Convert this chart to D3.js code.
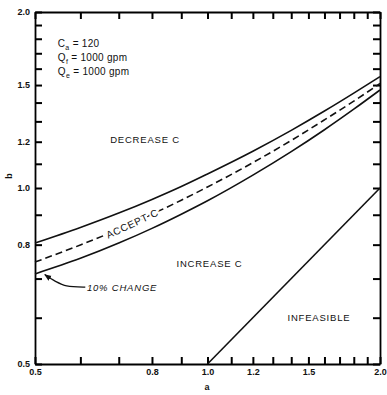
<!DOCTYPE html>
<html>
<head>
<meta charset="utf-8">
<script src="https://cdn.jsdelivr.net/npm/d3@7"></script>
<style>
  body { margin: 0; background: #fff; }
  svg { font-family: 'Liberation Sans', Arial, sans-serif; }
  .tick text { font-size: 9px; font-weight: bold; fill: #111; }
  .lbl { font-size: 9.5px; fill: #111; letter-spacing: 0.8px; }
</style>
</head>
<body>
<script>
// a values where the curves were read
const aVals = [0.5, 0.6, 0.7, 0.8, 0.9, 1.0, 1.2, 1.4, 1.6, 1.8, 2.0];
// upper limit (+10%), accept line, lower limit (-10%)
const upperB = [0.805, 0.856, 0.906, 0.956, 1.006, 1.057, 1.156, 1.255, 1.354, 1.453, 1.551];
const acceptB = [0.747, 0.799, 0.850, 0.902, 0.953, 1.004, 1.105, 1.206, 1.308, 1.408, 1.509];
const lowerB = [0.713, 0.758, 0.805, 0.853, 0.902, 0.951, 1.052, 1.154, 1.258, 1.364, 1.471];
// infeasible boundary b = a / 2
const infA = [1.0, 2.0];
const infB = [0.5, 1.0];

const tickVals = [0.5, 0.6, 0.7, 0.8, 0.9, 1.0, 1.1, 1.2, 1.3, 1.4, 1.5, 1.6, 1.7, 1.8, 1.9, 2.0];
const tickLabels = [0.5, 0.8, 1.0, 1.2, 1.5, 2.0];

const w = 387,
      h = 395,
      mLeft = 35,
      mRight = 380,
      mTop = 12,
      mBottom = 364,
      tk = 7;

const svg = d3.select('body')
            .append('svg')
            .attr('width', w)
            .attr('height', h);

const xScale = d3.scaleLog()
                .domain([0.5, 2.0])
                .range([mLeft, mRight]);

const yScale = d3.scaleLog()
                .domain([0.5, 2.0])
                .range([mBottom, mTop]);

const fmt = (d) => tickLabels.some((t) => Math.abs(t - d) < 1e-6) ? d3.format('.1f')(d) : '';

// axes on all four sides, ticks pointing inward
const xAxis = d3.axisBottom(xScale).tickValues(tickVals).tickFormat(fmt)
                .tickSizeInner(-tk).tickSizeOuter(0).tickPadding(5);
const yAxis = d3.axisLeft(yScale).tickValues(tickVals).tickFormat(fmt)
                .tickSizeInner(-tk).tickSizeOuter(0).tickPadding(5);
const xTop = d3.axisTop(xScale).tickValues(tickVals).tickFormat('')
                .tickSizeInner(-tk).tickSizeOuter(0);
const yRight = d3.axisRight(yScale).tickValues(tickVals).tickFormat('')
                .tickSizeInner(-tk).tickSizeOuter(0);

svg.append('g').attr('transform', 'translate(0,' + mBottom + ')').call(xAxis);
svg.append('g').attr('transform', 'translate(' + mLeft + ',0)').call(yAxis);
svg.append('g').attr('transform', 'translate(0,' + mTop + ')').call(xTop);
svg.append('g').attr('transform', 'translate(' + mRight + ',0)').call(yRight);

svg.selectAll('.domain').attr('stroke', '#000').attr('stroke-width', 1.8);
svg.selectAll('.tick line').attr('stroke', '#000').attr('stroke-width', 2);

// axis titles
svg.append('text')
    .attr('class', 'lbl')
    .attr('x', xScale(1.0))
    .attr('y', mBottom + 26)
    .attr('text-anchor', 'middle')
    .style('font-weight', 'bold')
    .style('font-size', '9px')
    .text('a');
svg.append('text')
    .attr('class', 'lbl')
    .attr('transform', 'translate(12,' + yScale(1.05) + ') rotate(-90)')
    .attr('text-anchor', 'middle')
    .style('font-weight', 'bold')
    .style('font-size', '9px')
    .text('b');

// curves
const line = d3.line()
              .x((d) => xScale(d[0]))
              .y((d) => yScale(d[1]))
              .curve(d3.curveMonotoneX);

const curves = [
  { vals: upperB, dash: null },
  { vals: acceptB, dash: '7,4' },
  { vals: lowerB, dash: null }
];

curves.forEach((c) => {
  svg.append('path')
      .datum(aVals.map((a, i) => [a, c.vals[i]]))
      .attr('d', line)
      .attr('fill', 'none')
      .attr('stroke', '#111')
      .attr('stroke-width', 1.6)
      .attr('stroke-dasharray', c.dash);
});

svg.append('path')
    .datum(infA.map((a, i) => [a, infB[i]]))
    .attr('d', d3.line().x((d) => xScale(d[0])).y((d) => yScale(d[1])))
    .attr('stroke', '#111')
    .attr('stroke-width', 1.6);

// region labels
const labels = [
  { t: 'DECREASE C', a: 0.778, b: 1.195 },
  { t: 'INCREASE C', a: 1.008, b: 0.733 },
  { t: 'INFEASIBLE', a: 1.565, b: 0.592 }
];
svg.selectAll('.region')
    .data(labels)
    .enter()
    .append('text')
    .attr('class', 'lbl region')
    .attr('x', (d) => xScale(d.a))
    .attr('y', (d) => yScale(d.b))
    .attr('text-anchor', 'middle')
    .text((d) => d.t);

// ACCEPT C along the dashed line
svg.append('text')
    .attr('class', 'lbl')
    .attr('transform', 'translate(' + xScale(0.744) + ',' + (yScale(0.87) + 3.5) + ') rotate(-25)')
    .attr('text-anchor', 'middle')
    .attr('stroke', '#fff')
    .attr('stroke-width', 4)
    .attr('paint-order', 'stroke')
    .style('font-size', '10px')
    .text('ACCEPT C');

// 10% change note
svg.append('defs').append('marker')
    .attr('id', 'arr')
    .attr('viewBox', '0 0 10 10')
    .attr('refX', 9).attr('refY', 5)
    .attr('markerWidth', 6).attr('markerHeight', 6)
    .attr('orient', 'auto')
    .append('path')
    .attr('d', 'M0,1L10,5L0,9z')
    .attr('fill', '#111');

const arrowA = [0.612, 0.568, 0.542, 0.52];
const arrowB = [0.677, 0.68, 0.693, 0.711];
svg.append('path')
    .datum(arrowA.map((a, i) => [a, arrowB[i]]))
    .attr('d', d3.line().x((d) => xScale(d[0])).y((d) => yScale(d[1])).curve(d3.curveCatmullRom))
    .attr('fill', 'none')
    .attr('stroke', '#111')
    .attr('stroke-width', 1.2)
    .attr('marker-end', 'url(#arr)');

svg.append('text')
    .attr('class', 'lbl')
    .attr('x', xScale(0.616))
    .attr('y', yScale(0.667))
    .style('font-style', 'italic')
    .text('10% CHANGE');

// parameter legend
const params = [
  { s: 'C', sub: 'a', v: ' = 120' },
  { s: 'Q', sub: 'f', v: ' = 1000 gpm' },
  { s: 'Q', sub: 'e', v: ' = 1000 gpm' }
];
const leg = svg.selectAll('.param')
    .data(params)
    .enter()
    .append('text')
    .attr('class', 'lbl param')
    .attr('x', xScale(0.548))
    .attr('y', (d, i) => 47 + i * 14)
    .style('letter-spacing', '0.3px')
    .style('font-size', '10px');
leg.append('tspan').text((d) => d.s);
leg.append('tspan').attr('dy', 3).style('font-size', '7px').text((d) => d.sub);
leg.append('tspan').attr('dy', -3).text((d) => d.v);
</script>
</body>
</html>
